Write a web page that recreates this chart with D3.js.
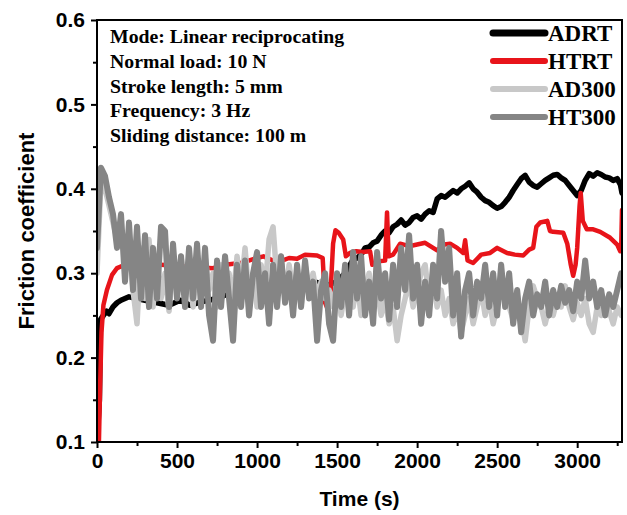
<!DOCTYPE html>
<html><head><meta charset="utf-8">
<script src="https://cdn.jsdelivr.net/npm/d3@7"></script>
<style>body{margin:0;background:#fff}</style>
</head><body>
<svg id="c" width="627" height="515"></svg>
<script>
const xTicks = [0,500,1000,1500,2000,2500,3000];
const yTicks = [0.1,0.2,0.3,0.4,0.5,0.6];
const seriesNames = ["ADRT","HTRT","AD300","HT300"];
const seriesColors = ["#000000","#e8141a","#c8c8c8","#858585"];
const notes = ["Mode: Linear reciprocating","Normal load: 10 N","Stroke length: 5 mm","Frequency: 3 Hz","Sliding distance: 100 m"];

const adrt = [[0,0.1],[15,0.15],[22,0.245],[40,0.25],[60,0.255],[75,0.252],[100,0.26],[125,0.265],[150,0.268],[200,0.272],[250,0.27],[300,0.268],[375,0.265],[450,0.262],[520,0.268],[580,0.262],[650,0.266],[750,0.27],[850,0.278],[950,0.283],[1050,0.285],[1150,0.288],[1250,0.29],[1350,0.29],[1420,0.287],[1450,0.286],[1475,0.288],[1500,0.29],[1525,0.295],[1550,0.30],[1575,0.308],[1600,0.316],[1625,0.318],[1650,0.322],[1675,0.33],[1700,0.331],[1725,0.336],[1750,0.338],[1775,0.345],[1800,0.35],[1825,0.348],[1850,0.355],[1875,0.358],[1900,0.363],[1925,0.357],[1950,0.36],[1975,0.366],[2000,0.368],[2025,0.364],[2050,0.37],[2075,0.374],[2100,0.372],[2125,0.388],[2150,0.392],[2175,0.39],[2200,0.394],[2225,0.398],[2250,0.395],[2275,0.40],[2300,0.403],[2325,0.407],[2350,0.40],[2375,0.396],[2400,0.39],[2425,0.386],[2450,0.384],[2475,0.38],[2500,0.377],[2525,0.379],[2550,0.384],[2575,0.39],[2600,0.398],[2625,0.405],[2650,0.412],[2675,0.416],[2700,0.408],[2725,0.404],[2750,0.402],[2775,0.406],[2800,0.41],[2825,0.413],[2850,0.416],[2875,0.417],[2900,0.413],[2925,0.41],[2950,0.404],[2975,0.398],[3000,0.392],[3025,0.398],[3050,0.41],[3075,0.418],[3100,0.415],[3125,0.419],[3150,0.417],[3175,0.414],[3200,0.413],[3225,0.41],[3250,0.412],[3270,0.405],[3280,0.395]];

const htrt = [[0,0.1],[12,0.1],[20,0.17],[28,0.23],[40,0.262],[62,0.28],[94,0.298],[125,0.306],[175,0.31],[250,0.312],[400,0.31],[550,0.308],[725,0.306],[800,0.31],[894,0.312],[1000,0.318],[1040,0.32],[1100,0.315],[1144,0.314],[1200,0.318],[1250,0.317],[1300,0.322],[1375,0.321],[1410,0.318],[1425,0.265],[1440,0.258],[1460,0.28],[1475,0.335],[1490,0.351],[1510,0.348],[1538,0.34],[1555,0.32],[1580,0.324],[1620,0.326],[1660,0.325],[1706,0.326],[1720,0.31],[1760,0.314],[1800,0.315],[1812,0.372],[1822,0.32],[1850,0.322],[1894,0.335],[1950,0.332],[2000,0.334],[2050,0.336],[2100,0.33],[2125,0.327],[2170,0.334],[2206,0.335],[2250,0.33],[2288,0.324],[2300,0.339],[2315,0.315],[2350,0.312],[2400,0.322],[2456,0.324],[2500,0.33],[2562,0.324],[2610,0.322],[2663,0.321],[2700,0.328],[2725,0.33],[2745,0.355],[2769,0.36],[2813,0.362],[2830,0.35],[2850,0.349],[2913,0.348],[2938,0.335],[2960,0.31],[2975,0.297],[2990,0.31],[3000,0.33],[3015,0.38],[3022,0.395],[3035,0.362],[3060,0.352],[3100,0.352],[3144,0.349],[3206,0.342],[3250,0.334],[3269,0.326],[3275,0.33],[3280,0.375]];

// sampled every 25 s from t = 0
const ad300 = [0.30,0.41,0.40,0.38,0.36,0.34,0.35,0.33,0.345,0.28,0.24,0.33,0.27,0.34,0.26,0.32,0.27,0.30,0.255,0.31,0.28,0.32,0.27,0.30,0.26,0.31,0.27,0.32,0.28,0.30,0.26,0.31,0.28,0.30,0.27,0.32,0.28,0.33,0.27,0.30,0.26,0.31,0.28,0.34,0.355,0.29,0.32,0.27,0.31,0.28,0.30,0.26,0.31,0.28,0.30,0.27,0.29,0.27,0.28,0.26,0.29,0.25,0.28,0.27,0.26,0.29,0.25,0.28,0.30,0.26,0.28,0.25,0.27,0.24,0.26,0.22,0.25,0.27,0.29,0.26,0.28,0.30,0.31,0.27,0.29,0.26,0.28,0.25,0.27,0.24,0.26,0.23,0.25,0.27,0.24,0.26,0.28,0.25,0.27,0.24,0.26,0.295,0.27,0.26,0.245,0.27,0.25,0.22,0.26,0.285,0.27,0.26,0.24,0.26,0.25,0.27,0.26,0.285,0.26,0.245,0.265,0.25,0.27,0.24,0.23,0.26,0.25,0.27,0.255,0.24,0.26,0.25];

const ht300 = [0.33,0.425,0.415,0.39,0.37,0.33,0.37,0.29,0.36,0.28,0.355,0.27,0.345,0.26,0.33,0.27,0.355,0.35,0.26,0.335,0.27,0.32,0.26,0.33,0.27,0.335,0.26,0.33,0.25,0.22,0.315,0.26,0.32,0.27,0.22,0.31,0.26,0.315,0.25,0.30,0.325,0.26,0.30,0.24,0.31,0.26,0.32,0.265,0.30,0.25,0.31,0.26,0.315,0.27,0.29,0.22,0.28,0.30,0.24,0.22,0.30,0.26,0.31,0.25,0.325,0.27,0.32,0.25,0.29,0.24,0.325,0.27,0.30,0.245,0.31,0.26,0.33,0.28,0.345,0.27,0.31,0.24,0.29,0.25,0.31,0.27,0.35,0.29,0.33,0.25,0.30,0.225,0.28,0.30,0.25,0.29,0.27,0.31,0.26,0.30,0.25,0.31,0.26,0.30,0.24,0.28,0.23,0.27,0.29,0.25,0.275,0.26,0.29,0.25,0.28,0.26,0.285,0.265,0.28,0.255,0.29,0.27,0.315,0.27,0.29,0.26,0.28,0.25,0.275,0.26,0.28,0.30];

const step = 25;
const series = [
  adrt,
  htrt,
  ad300.map((v,i)=>[i*step,v]),
  ht300.map((v,i)=>[i*step,v])
];
const widths = [5.5,4.5,5.5,6];

const svg = d3.select("#c");
const L=97, R=622, T=20, B=442;
const x = d3.scaleLinear().domain([0,3280]).range([L,R]);
const y = d3.scaleLinear().domain([0.1,0.6]).range([B,T]);

svg.append("clipPath").attr("id","clp").append("rect")
  .attr("x",L).attr("y",T).attr("width",R-L).attr("height",B-T);

const line = d3.line().x(d=>x(d[0])).y(d=>y(d[1]));
const g = svg.append("g").attr("clip-path","url(#clp)");
series.forEach((s,i)=>{
  g.append("path").datum(s).attr("d",line)
   .attr("fill","none").attr("stroke",seriesColors[i])
   .attr("stroke-width",widths[i]).attr("stroke-linejoin","round").attr("stroke-linecap","round");
});

// frame
svg.append("rect").attr("x",L).attr("y",T).attr("width",R-L).attr("height",B-T)
  .attr("fill","none").attr("stroke","#000").attr("stroke-width",2);

const fontSans = "'Liberation Sans', Arial, sans-serif";
const fontSerif = "'Liberation Serif', 'Times New Roman', serif";

// axes
const xAxis = d3.axisBottom(x).tickValues(xTicks).tickSize(6).tickPadding(5).tickFormat(d3.format("d"));
const xMinor = d3.axisBottom(x).tickValues(d3.range(250,3280,500)).tickSize(4).tickFormat("");
const gx = svg.append("g").attr("transform",`translate(0,${B})`).call(xAxis);
const gxm = svg.append("g").attr("transform",`translate(0,${B})`).call(xMinor);
const yAxis = d3.axisLeft(y).tickValues(yTicks).tickSize(6).tickPadding(6).tickFormat(d3.format(".1f"));
const yMinor = d3.axisLeft(y).tickValues([0.15,0.25,0.35,0.45,0.55]).tickSize(4).tickFormat("");
const gy = svg.append("g").attr("transform",`translate(${L},0)`).call(yAxis);
const gym = svg.append("g").attr("transform",`translate(${L},0)`).call(yMinor);
[gx,gxm,gy,gym].forEach(a=>{
  a.select(".domain").remove();
  a.selectAll(".tick line").attr("stroke","#000").attr("stroke-width",2);
  a.selectAll(".tick text").attr("fill","#000").style("font-family",fontSans)
   .style("font-weight","bold").style("font-size","21px");
});

svg.append("text").attr("x",(L+R)/2).attr("y",506).attr("text-anchor","middle")
  .style("font-family",fontSans).style("font-weight","bold").style("font-size","21px").text("Time (s)");
svg.append("text").attr("transform",`translate(34,${(T+B)/2}) rotate(-90)`).attr("text-anchor","middle")
  .style("font-family",fontSans).style("font-weight","bold").style("font-size","22px").text("Friction coefficient");

// notes
notes.forEach((t,i)=>{
  svg.append("text").attr("x",110).attr("y",43+i*24.8)
    .style("font-family",fontSerif).style("font-weight","bold").style("font-size","19.8px").text(t);
});

// legend
seriesNames.forEach((n,i)=>{
  const yy = 33 + i*28;
  svg.append("line").attr("x1",493).attr("x2",545).attr("y1",yy).attr("y2",yy)
    .attr("stroke",seriesColors[i]).attr("stroke-width",i===0?7:6).attr("stroke-linecap","round");
  svg.append("text").attr("x",548).attr("y",yy+8)
    .style("font-family",fontSerif).style("font-weight","bold").style("font-size","23px").text(n);
});
</script>
</body></html>
